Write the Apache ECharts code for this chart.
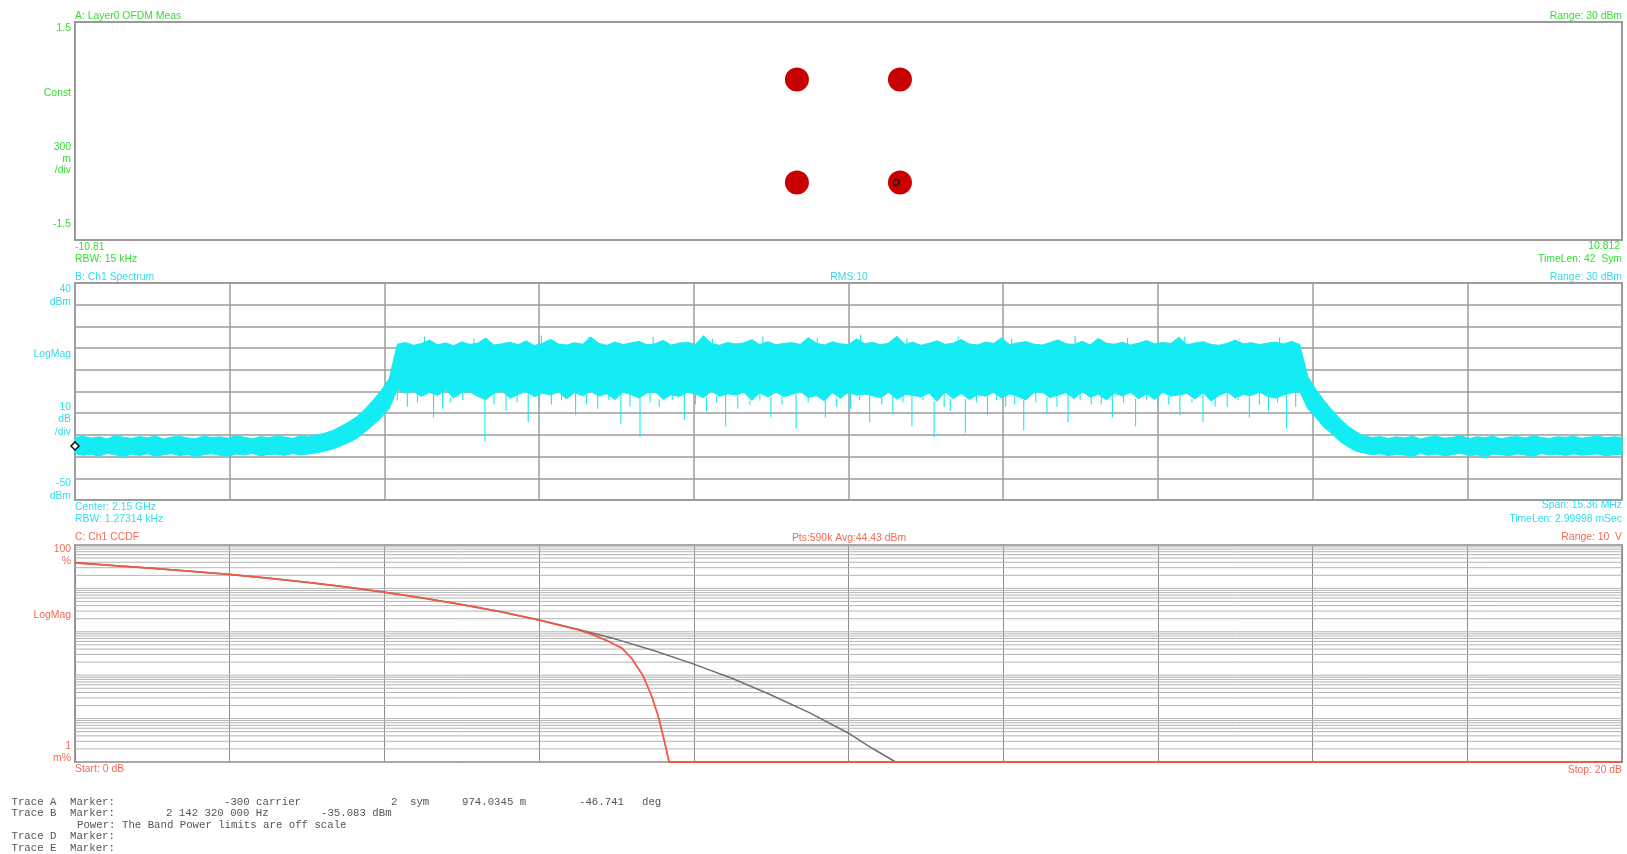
<!DOCTYPE html>
<html>
<head>
<meta charset="utf-8">
<title>Layer0 OFDM / Ch1 Spectrum / Ch1 CCDF</title>
<script src="https://cdn.jsdelivr.net/npm/echarts@6/dist/echarts.min.js"></script>
<style>
  html, body { margin: 0; padding: 0; background: #ffffff; }
  #main { width: 1627px; height: 854px; }
</style>
</head>
<body>
<div id="main"></div>
<script>
// ---------- Trace A: constellation (I / Q) ----------
const constI = [-0.72, 0.72, -0.72, 0.72];
const constQ = [0.71, 0.71, -0.71, -0.71];
const markerA = { mag: 0.9740345, deg: -46.741 };

// ---------- Trace B: spectrum, offset from 2.15 GHz centre in MHz ----------
const centerHz = 2150000000;
const spanMHz = 15.36;
// upper edge of the noisy trace, dBm (evenly spaced across the span)
const specUpper = [
  -31.2,-30.6,-31.5,-30.9,-31.8,-30.4,-31.1,-31.6,-30.8,-31.3,
  -30.5,-31.9,-31.0,-30.7,-31.4,-31.7,-30.6,-31.2,-30.9,-31.5,
  -30.3,-31.1,-31.8,-30.8,-31.3,-30.6,-31.0,-31.6,-30.5,-30.9,
  -30.0,-29.2,-28.0,-26.0,-24.0,-21.5,-18.0,-14.0,-9.5,-4.0,
  11.8,12.6,11.3,12.1,13.7,11.5,12.4,11.1,12.9,11.7,
  12.3,14.6,11.4,12.0,12.7,11.6,13.3,11.2,12.1,14.1,
  11.9,11.4,12.5,11.8,15.1,12.2,11.3,12.8,11.6,12.4,
  13.1,11.5,12.0,13.6,11.4,12.3,12.7,11.7,15.7,12.1,
  11.3,12.6,11.9,12.4,13.9,11.6,13.0,11.5,12.2,12.5,
  11.7,14.8,12.3,11.4,12.9,12.0,11.6,14.3,12.1,12.6,
  11.5,12.4,15.5,11.8,12.7,11.3,12.2,13.4,11.7,12.3,
  14.0,11.9,11.4,12.8,12.1,14.7,11.6,12.4,13.0,11.8,
  11.4,12.5,13.8,12.0,11.7,13.1,11.5,14.5,12.2,11.8,
  12.7,11.4,12.3,13.5,11.9,12.6,12.1,15.0,11.5,12.4,
  12.9,11.7,11.3,12.2,13.7,12.0,12.5,11.6,12.3,12.8,
  11.9,13.1,11.7,
  -3.0,-9.0,-14.0,-18.5,-22.5,-26.0,-28.5,
  -30.5,-31.2,-30.8,-31.6,-30.9,-31.4,-30.6,-31.9,-31.0,-30.7,
  -31.5,-31.1,-30.4,-31.7,-30.9,-31.3,-30.6,-31.8,-31.0,-30.8,
  -31.4,-30.5,-31.2,-31.6,-30.9,-31.1,-30.7,-31.5,-31.0,-30.6,
  -31.3,-30.9,-31.2
];
// lower edge of the noisy trace, dBm
const specLower = [
  -38.6,-39.4,-38.9,-39.8,-38.5,-39.2,-40.1,-38.8,-39.5,-38.7,
  -39.9,-39.1,-38.6,-39.6,-38.9,-40.3,-39.0,-38.7,-39.4,-39.8,
  -38.8,-39.3,-38.5,-39.7,-39.0,-38.9,-39.5,-38.6,-39.2,-38.8,
  -38.2,-37.5,-36.5,-35.0,-33.5,-31.5,-28.5,-25.5,-22.0,-18.0,
  -9.0,-10.7,-9.9,-12.3,-10.4,-11.8,-9.3,-13.0,-10.5,-10.1,
  -12.3,-13.7,-10.9,-9.7,-13.1,-11.3,-10.0,-12.4,-10.8,-11.6,
  -10.2,-13.4,-10.5,-12.0,-9.9,-12.1,-11.0,-13.7,-10.3,-11.4,
  -13.0,-10.7,-10.1,-13.6,-11.5,-12.3,-10.4,-11.1,-12.9,-9.8,
  -12.2,-11.0,-11.7,-10.3,-14.1,-10.6,-12.5,-10.2,-12.4,-11.3,
  -10.0,-12.8,-11.9,-14.3,-10.5,-13.1,-10.4,-11.7,-11.2,-12.0,
  -12.9,-10.3,-13.6,-11.4,-11.8,-12.5,-10.7,-14.5,-10.1,-13.3,
  -10.9,-13.7,-11.5,-12.2,-10.4,-13.0,-11.1,-12.3,-13.9,-10.6,
  -10.2,-12.8,-11.7,-10.5,-13.3,-10.0,-12.6,-11.3,-13.9,-10.8,
  -12.1,-10.4,-13.3,-11.0,-13.7,-10.3,-12.1,-11.6,-10.9,-13.4,
  -10.5,-14.4,-11.8,-10.1,-13.0,-11.4,-11.9,-10.3,-12.2,-13.1,
  -11.5,-10.7,-10.0,
  -18.0,-22.0,-26.5,-29.5,-33.0,-35.5,-37.5,
  -38.4,-39.1,-38.7,-39.6,-38.9,-39.3,-40.0,-38.6,-39.4,-38.8,
  -39.7,-39.0,-38.5,-39.5,-39.2,-40.2,-38.8,-39.1,-39.6,-38.7,
  -39.3,-39.9,-38.6,-39.2,-38.9,-39.5,-38.7,-39.4,-39.0,-38.8,
  -39.6,-39.1,-38.9
];
// narrow downward dips inside the occupied band: [offset MHz, dBm]
const specDips = [
  [-4.48,-14],[-4.38,-17],[-4.28,-15],[-4.12,-22],[-4.03,-18],[-3.95,-15],
  [-3.83,-14],[-3.61,-33],[-3.52,-16],[-3.40,-19],[-3.29,-15],[-3.18,-24],
  [-3.07,-17],[-2.95,-16],[-2.85,-14],[-2.71,-21],[-2.60,-16],[-2.49,-18],
  [-2.38,-14],[-2.26,-25],[-2.17,-17],[-2.07,-31],[-1.97,-15],[-1.88,-17],
  [-1.75,-14],[-1.63,-23],[-1.52,-16],[-1.41,-19],[-1.31,-15],[-1.22,-26],
  [-1.10,-18],[-0.98,-16],[-0.88,-14],[-0.77,-22],[-0.66,-16],[-0.52,-27],
  [-0.40,-15],[-0.23,-22],[-0.12,-17],[0.02,-18],[0.11,-14],[0.21,-24],
  [0.33,-16],[0.44,-20],[0.54,-15],[0.63,-26],[0.74,-14],[0.85,-31],
  [0.95,-17],[1.01,-19],[1.16,-29],[1.27,-15],[1.38,-21],[1.47,-14],
  [1.56,-17],[1.65,-16],[1.74,-28],[1.86,-15],[1.97,-20],[2.07,-17],
  [2.18,-24],[2.30,-14],[2.41,-16],[2.51,-16],[2.62,-22],[2.73,-15],
  [2.85,-26],[2.96,-14],[3.07,-18],[3.18,-16],[3.29,-21],[3.41,-15],
  [3.52,-24],[3.64,-17],[3.76,-17],[3.87,-14],[3.98,-22],[4.08,-16],
  [4.17,-19],[4.26,-15],[4.35,-27],[4.44,-17]
];
// narrow upward peaks inside the occupied band: [offset MHz, dBm]
const specPeaks = [
  [-4.21,15.3],[-3.72,14.4],[-3.05,15.8],[-2.58,14.6],[-1.94,15.1],[-1.35,14.3],
  [-0.85,15.5],[-0.31,14.8],[0.12,16.1],[0.58,14.5],[1.09,15.2],[1.62,14.4],
  [2.25,15.6],[2.77,14.7],[3.34,15.3],[3.88,14.2],[4.28,14.9]
];
const markerB = { hz: 2142320000, dbm: -35.083 };

// ---------- Trace C: CCDF ----------
const ccdfRefDb = [0,0.5,1,1.5,2,2.5,3,3.5,4,4.5,5,5.5,6,6.5,7,7.5,8,8.5,9,9.5,10,10.3,10.61];
const ccdfRef   = [39,33.5,29,24.8,21,17.2,13.8,10.8,8.2,6.0,4.25,2.9,1.88,1.15,0.67,0.36,0.18,0.084,0.035,0.0135,0.0046,0.0021,0.001];
const ccdfMeasDb = [0,0.5,1,1.5,2,2.5,3,3.5,4,4.5,5,5.5,6,6.5,6.7,6.9,7.07,7.2,7.34,7.45,7.54,7.62,7.68,20];
const ccdfMeas   = [39,33.5,29,24.8,21,17.2,13.8,10.8,8.2,6.0,4.25,2.9,1.86,1.12,0.85,0.6,0.42,0.24,0.1,0.035,0.0115,0.003,0.001,0.001];
const ccdfDecades = [0.001, 0.01, 0.1, 1, 10];
const ccdfMantissa = [1, 2, 3, 4, 5, 6, 7, 8, 9];

// ---------- styling ----------
const GREEN = '#34dd34';
const CYAN = '#30dcec';
const SALMON = '#f06a55';
const TRACE = '#12ecf2';
const FONT = '10.4px "Liberation Sans", Arial, sans-serif';
const MONO = '10.7px "Liberation Mono", "DejaVu Sans Mono", monospace';
const GRIDLINE = '#9c9c9c';

// ---------- derived series data ----------
const nSpec = specUpper.length;
const specStep = spanMHz / (nSpec - 1);
const specX = specUpper.map((_, i) => -spanMHz / 2 + i * specStep);
const specIndex = x => Math.max(0, Math.min(nSpec - 1, Math.round((x + spanMHz / 2) / specStep)));

const constData = constI.map((v, i) => [v, constQ[i]]);
const markerAPoint = [
  markerA.mag * Math.cos(markerA.deg * Math.PI / 180),
  markerA.mag * Math.sin(markerA.deg * Math.PI / 180)
];
const markerBPoint = [(markerB.hz - centerHz) / 1e6, markerB.dbm];

const ccdfGridValues = [];
ccdfDecades.forEach(d => ccdfMantissa.forEach(m => ccdfGridValues.push([0, d * m])));
ccdfGridValues.push([0, 100]);

// ---------- panel annotations ----------
function label(text, x, y, color, align) {
  return {
    type: 'text', x: x, y: y, silent: true, z: 10,
    style: { text: text, fill: color, font: FONT, textAlign: align || 'left', textVerticalAlign: 'middle' }
  };
}
function mono(text, x, y) {
  return {
    type: 'text', x: x, y: y, silent: true, z: 10,
    style: { text: text, fill: '#555555', font: MONO, textAlign: 'left', textVerticalAlign: 'middle' }
  };
}
const annotations = [
  // panel A
  label('A: Layer0 OFDM Meas', 75, 16, GREEN),
  label('Range: 30 dBm', 1622, 16, GREEN, 'right'),
  label('1.5', 71, 28, GREEN, 'right'),
  label('Const', 71, 93, GREEN, 'right'),
  label('300', 71, 147, GREEN, 'right'),
  label('m', 71, 159, GREEN, 'right'),
  label('/div', 71, 170, GREEN, 'right'),
  label('-1.5', 71, 224, GREEN, 'right'),
  label('-10.81', 75, 247, GREEN),
  label('RBW: 15 kHz', 75, 259, GREEN),
  label('10.812', 1620, 246, GREEN, 'right'),
  label('TimeLen: 42  Sym', 1622, 259, GREEN, 'right'),
  // panel B
  label('B: Ch1 Spectrum', 75, 277, CYAN),
  label('RMS:10', 849, 277, CYAN, 'center'),
  label('Range: 30 dBm', 1622, 277, CYAN, 'right'),
  label('40', 71, 289, CYAN, 'right'),
  label('dBm', 71, 302, CYAN, 'right'),
  label('LogMag', 71, 354, CYAN, 'right'),
  label('10', 71, 407, CYAN, 'right'),
  label('dB', 71, 419, CYAN, 'right'),
  label('/div', 71, 432, CYAN, 'right'),
  label('-50', 71, 483, CYAN, 'right'),
  label('dBm', 71, 496, CYAN, 'right'),
  label('Center: 2.15 GHz', 75, 507, CYAN),
  label('RBW: 1.27314 kHz', 75, 519, CYAN),
  label('Span: 15.36 MHz', 1622, 505, CYAN, 'right'),
  label('TimeLen: 2.99998 mSec', 1622, 519, CYAN, 'right'),
  // panel C
  label('C: Ch1 CCDF', 75, 537, SALMON),
  label('Pts:590k Avg:44.43 dBm', 849, 538, SALMON, 'center'),
  label('Range: 10  V', 1622, 537, SALMON, 'right'),
  label('100', 71, 549, SALMON, 'right'),
  label('%', 71, 561, SALMON, 'right'),
  label('LogMag', 71, 615, SALMON, 'right'),
  label('1', 71, 746, SALMON, 'right'),
  label('m%', 71, 758, SALMON, 'right'),
  label('Start: 0 dB', 75, 769, SALMON),
  label('Stop: 20 dB', 1622, 770, SALMON, 'right'),
  // marker readout
  mono('Trace A', 11.5, 802), mono('Marker:', 70, 802), mono('-300 carrier', 224, 802),
  mono('2', 391, 802), mono('sym', 410, 802), mono('974.0345 m', 462, 802),
  mono('-46.741', 579, 802), mono('deg', 642, 802),
  mono('Trace B', 11.5, 813.5), mono('Marker:', 70, 813.5), mono('2 142 320 000 Hz', 166, 813.5),
  mono('-35.083 dBm', 321, 813.5),
  mono('Power:', 77, 825), mono('The Band Power limits are off scale', 122, 825),
  mono('Trace D', 11.5, 836.5), mono('Marker:', 70, 836.5),
  mono('Trace E', 11.5, 848), mono('Marker:', 70, 848)
];

// ---------- chart ----------
const chart = echarts.init(document.getElementById('main'), null, { renderer: 'canvas', width: 1627, height: 854 });

const hiddenAxis = {
  axisLine: { show: false }, axisTick: { show: false }, axisLabel: { show: false }
};
const panelGrid = { left: 75, right: 5, show: true, borderColor: '#9a9a9a', borderWidth: 2, backgroundColor: '#ffffff' };

chart.setOption({
  animation: false,
  backgroundColor: '#ffffff',
  grid: [
    Object.assign({ top: 22, height: 218 }, panelGrid),
    Object.assign({ top: 283, height: 217 }, panelGrid),
    Object.assign({ top: 545, height: 217 }, panelGrid)
  ],
  xAxis: [
    Object.assign({ gridIndex: 0, type: 'value', min: -10.81, max: 10.812, splitLine: { show: false } }, hiddenAxis),
    Object.assign({ gridIndex: 1, type: 'value', min: -7.68, max: 7.68, interval: 1.536,
      splitLine: { show: true, lineStyle: { color: GRIDLINE, width: 1.5 } } }, hiddenAxis),
    Object.assign({ gridIndex: 2, type: 'value', min: 0, max: 20, interval: 2,
      splitLine: { show: true, lineStyle: { color: '#8c8c8c', width: 1 } } }, hiddenAxis)
  ],
  yAxis: [
    Object.assign({ gridIndex: 0, type: 'value', min: -1.5, max: 1.5, splitLine: { show: false } }, hiddenAxis),
    Object.assign({ gridIndex: 1, type: 'value', min: -60, max: 40, interval: 10,
      splitLine: { show: true, lineStyle: { color: GRIDLINE, width: 1.5 } } }, hiddenAxis),
    Object.assign({ gridIndex: 2, type: 'log', logBase: 10, min: 0.001, max: 100,
      splitLine: { show: false } }, hiddenAxis)
  ],
  graphic: annotations,
  series: [
    // A: constellation clusters
    {
      type: 'scatter', xAxisIndex: 0, yAxisIndex: 0, data: constData,
      symbol: 'circle', symbolSize: 24, itemStyle: { color: '#c80000', opacity: 1 }, silent: true, z: 3
    },
    {
      type: 'scatter', xAxisIndex: 0, yAxisIndex: 0, data: [markerAPoint],
      symbol: 'circle', symbolSize: 6, itemStyle: { color: 'rgba(0,0,0,0)', borderColor: '#111', borderWidth: 1.4, opacity: 1 },
      silent: true, z: 4
    },
    // B: spectrum body
    {
      type: 'custom', xAxisIndex: 1, yAxisIndex: 1, data: [[0, 0]], silent: true, z: 3,
      renderItem: function (params, api) {
        const pts = [];
        for (let i = 0; i < nSpec; i++) pts.push(api.coord([specX[i], specUpper[i]]));
        for (let i = nSpec - 1; i >= 0; i--) pts.push(api.coord([specX[i], specLower[i]]));
        return { type: 'polygon', shape: { points: pts }, style: { fill: TRACE, stroke: TRACE, lineWidth: 1 } };
      }
    },
    // B: dips below the body
    {
      type: 'custom', xAxisIndex: 1, yAxisIndex: 1, data: specDips, silent: true, z: 3,
      renderItem: function (params, api) {
        const x = api.value(0);
        const a = api.coord([x, specLower[specIndex(x)]]);
        const b = api.coord([x, api.value(1)]);
        return { type: 'line', shape: { x1: a[0], y1: a[1], x2: b[0], y2: b[1] }, style: { stroke: TRACE, lineWidth: 1.1 } };
      }
    },
    // B: peaks above the body
    {
      type: 'custom', xAxisIndex: 1, yAxisIndex: 1, data: specPeaks, silent: true, z: 3,
      renderItem: function (params, api) {
        const x = api.value(0);
        const a = api.coord([x, specUpper[specIndex(x)]]);
        const b = api.coord([x, api.value(1)]);
        return { type: 'line', shape: { x1: a[0], y1: a[1], x2: b[0], y2: b[1] }, style: { stroke: TRACE, lineWidth: 1.1 } };
      }
    },
    // B: marker
    {
      type: 'scatter', xAxisIndex: 1, yAxisIndex: 1, data: [markerBPoint], clip: false,
      symbol: 'diamond', symbolSize: 8, itemStyle: { color: '#ffffff', borderColor: '#111', borderWidth: 1.5, opacity: 1 },
      silent: true, z: 5
    },
    // C: logarithmic grid lines
    {
      type: 'custom', xAxisIndex: 2, yAxisIndex: 2, data: ccdfGridValues, silent: true, z: 1,
      renderItem: function (params, api) {
        const v = api.value(1);
        const a = api.coord([0, v]);
        const b = api.coord([20, v]);
        return { type: 'line', shape: { x1: a[0], y1: a[1], x2: b[0], y2: b[1] }, style: { stroke: '#b4b4b4', lineWidth: 1 } };
      }
    },
    // C: reference (Gaussian) curve
    {
      type: 'line', xAxisIndex: 2, yAxisIndex: 2, data: ccdfRefDb.map((x, i) => [x, ccdfRef[i]]),
      symbol: 'none', smooth: false, lineStyle: { color: '#707070', width: 1.5 }, silent: true, z: 3
    },
    // C: measured curve
    {
      type: 'line', xAxisIndex: 2, yAxisIndex: 2, data: ccdfMeasDb.map((x, i) => [x, ccdfMeas[i]]),
      symbol: 'none', smooth: false, clip: false, lineStyle: { color: '#f05a44', width: 1.8 }, silent: true, z: 4
    }
  ]
});
</script>
</body>
</html>
